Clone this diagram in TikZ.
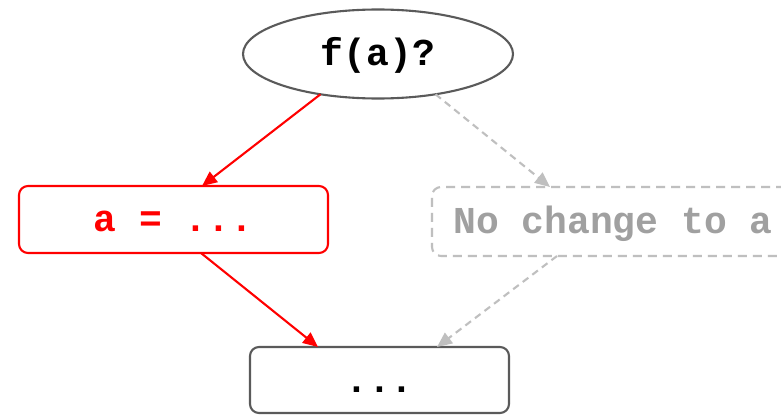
\documentclass[tikz,border=0pt]{standalone}
\usepackage{fontspec}
\setmonofont{Liberation Mono}
\usetikzlibrary{shapes.geometric,arrows.meta}

\definecolor{edgedark}{HTML}{5A5A5A}
\definecolor{mutedline}{HTML}{BFBFBF}
\definecolor{mutedtext}{HTML}{A0A0A0}
\definecolor{hotred}{HTML}{FF0000}

\tikzset{
  box/.style={draw, line width=2.1pt, inner sep=0pt, outer sep=0pt,
    font=\ttfamily\bfseries\fontsize{38}{38}\selectfont,
    text height=27pt, text depth=4pt},
  decision/.style={box, ellipse, draw=edgedark, text=black},
  taken/.style={box, rectangle, rounded corners=9pt, draw=hotred, text=hotred},
  skipped/.style={box, rectangle, rounded corners=9pt, draw=mutedline, text=mutedtext,
    dash pattern=on 9pt off 6pt},
  plain/.style={box, rectangle, rounded corners=9pt, draw=edgedark, text=black},
  flow/.style={line width=2.1pt, -{Triangle[length=15pt,width=13pt]}},
  hot/.style={flow, draw=hotred},
  cold/.style={flow, draw=mutedline, dash pattern=on 7pt off 5pt},
}

\begin{document}
\begin{tikzpicture}[x=1pt,y=-1pt]
  \clip (0,0) rectangle (781,415);
  \fill[white] (0,0) rectangle (781,415);

  \node[decision, minimum width=270pt, minimum height=89pt] (q) at (378,54) {f(a)?};
  \node[taken, minimum width=309pt, minimum height=67pt] (r) at (173.5,219.5) {a = ...};
  \node[skipped, minimum width=362pt, minimum height=69pt] (g) at (613,221.5) {No change to a};
  \node[plain, minimum width=259pt, minimum height=66pt, text height=25pt, text depth=1pt] (b) at (379.5,380) {...};

  \draw[hot] (q.215) -- ([xshift=28.5pt]r.north);
  \draw[hot] ([xshift=27.5pt]r.south) -- ([xshift=-61.5pt]b.north);
  \draw[cold] (q.-35) -- ([xshift=-63pt]g.north);
  \draw[cold] ([xshift=-56pt]g.south) -- ([xshift=57.5pt]b.north);
\end{tikzpicture}
\end{document}
